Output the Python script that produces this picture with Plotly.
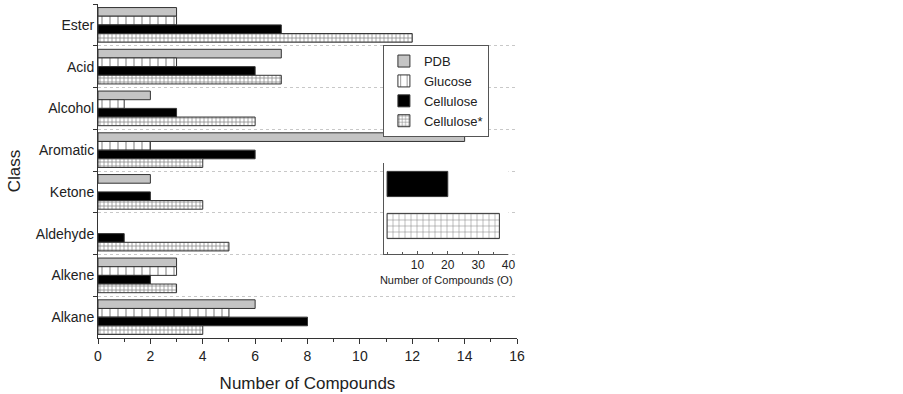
import plotly.graph_objects as go

categories = ["Ester", "Acid", "Alcohol", "Aromatic", "Ketone", "Aldehyde", "Alkene", "Alkane"]
pdb = [3, 7, 2, 14, 2, 0, 3, 6]
glucose = [3, 3, 1, 2, 0, 0, 3, 5]
cellulose = [7, 6, 3, 6, 2, 1, 2, 8]
cellulose_star = [12, 7, 6, 4, 4, 5, 3, 4]

inset_labels = ["Cellulose", "Cellulose*"]
inset_values = [20, 37]
x_ticks = [0, 2, 4, 6, 8, 10, 12, 14, 16]
inset_ticks = [10, 20, 30, 40]

FONT = "Arial, Liberation Sans, sans-serif"


def outline(vals):
    # no outline for empty (zero-length) bars
    return dict(color="#333333", width=[0 if v == 0 else 1 for v in vals])


fig = go.Figure()
fig.add_trace(go.Bar(name="PDB", y=categories, x=pdb, orientation="h",
                     marker=dict(color="#c4c4c4", line=outline(pdb))))
fig.add_trace(go.Bar(name="Glucose", y=categories, x=glucose, orientation="h",
                     marker=dict(color="white", line=outline(glucose),
                                 pattern=dict(shape="|", size=8, solidity=0.15,
                                              fgcolor="#222222", bgcolor="white"))))
fig.add_trace(go.Bar(name="Cellulose", y=categories, x=cellulose, orientation="h",
                     marker=dict(color="black", line=outline(cellulose))))
fig.add_trace(go.Bar(name="Cellulose*", y=categories, x=cellulose_star, orientation="h",
                     marker=dict(color="white", line=outline(cellulose_star),
                                 pattern=dict(shape="+", size=4, solidity=0.35,
                                              fgcolor="#111111", bgcolor="white"))))

# inset
fig.add_trace(go.Bar(y=[0], x=[inset_values[0]], orientation="h", xaxis="x2", yaxis="y2",
                     width=0.6, showlegend=False,
                     marker=dict(color="black", line=dict(color="#333333", width=1))))
fig.add_trace(go.Bar(y=[1], x=[inset_values[1]], orientation="h", xaxis="x2", yaxis="y2",
                     width=0.6, showlegend=False,
                     marker=dict(color="white", line=dict(color="#333333", width=1),
                                 pattern=dict(shape="+", size=6, solidity=0.18,
                                              fgcolor="#111111", bgcolor="white"))))

fig.update_layout(
    width=903, height=394,
    margin=dict(l=98, r=386, t=4, b=56, autoexpand=False),
    paper_bgcolor="white", plot_bgcolor="white",
    font=dict(family=FONT, color="#222222", size=14),
    barmode="group", bargap=0.17, bargroupgap=0,
    showlegend=True,
    legend=dict(x=0.68, y=0.877, xanchor="left", yanchor="top",
                bgcolor="white", bordercolor="#555555", borderwidth=1,
                font=dict(size=13, family=FONT), tracegroupgap=0,
                itemwidth=30, entrywidth=118, entrywidthmode="pixels"),
    xaxis=dict(range=[0, 16], tickvals=x_ticks, showline=True, linecolor="#333333", linewidth=1,
               ticks="outside", ticklen=5, tickcolor="#333333", automargin=False,
               minor=dict(dtick=1, ticks="outside", ticklen=3, tickcolor="#333333"),
               showgrid=False, zeroline=False, tickfont=dict(size=14),
               title=dict(text="Number of Compounds", font=dict(size=17), standoff=14)),
    yaxis=dict(autorange="reversed", showline=True, linecolor="#333333", linewidth=1,
               ticks="outside", ticklen=4, tickcolor="#333333", tickson="boundaries",
               showgrid=True, gridcolor="#c8c8c8", griddash="dot", gridwidth=1,
               tickfont=dict(size=14), automargin=False,
               title=dict(text="Class", font=dict(size=17), standoff=10)),
    xaxis2=dict(domain=[0.6826, 0.9797], anchor="y2", range=[-1, 40], tickvals=inset_ticks,
                showline=True, linecolor="#555555", linewidth=1, automargin=False,
                ticks="inside", ticklen=3, tickcolor="#555555",
                minor=dict(dtick=5, ticks="inside", ticklen=2, tickcolor="#555555"),
                showgrid=False, zeroline=False, tickfont=dict(size=12),
                title=dict(text="Number of Compounds (O)", font=dict(size=11), standoff=4)),
    yaxis2=dict(domain=[0.2515, 0.524], anchor="x2", range=[1.667, -0.5], automargin=False,
                showline=True, linecolor="#555555", linewidth=1,
                showticklabels=False, ticks="", showgrid=False, zeroline=False),
)

fig.write_html("out.html", config={"displayModeBar": False},
               post_script="document.body.style.margin='0px';")
